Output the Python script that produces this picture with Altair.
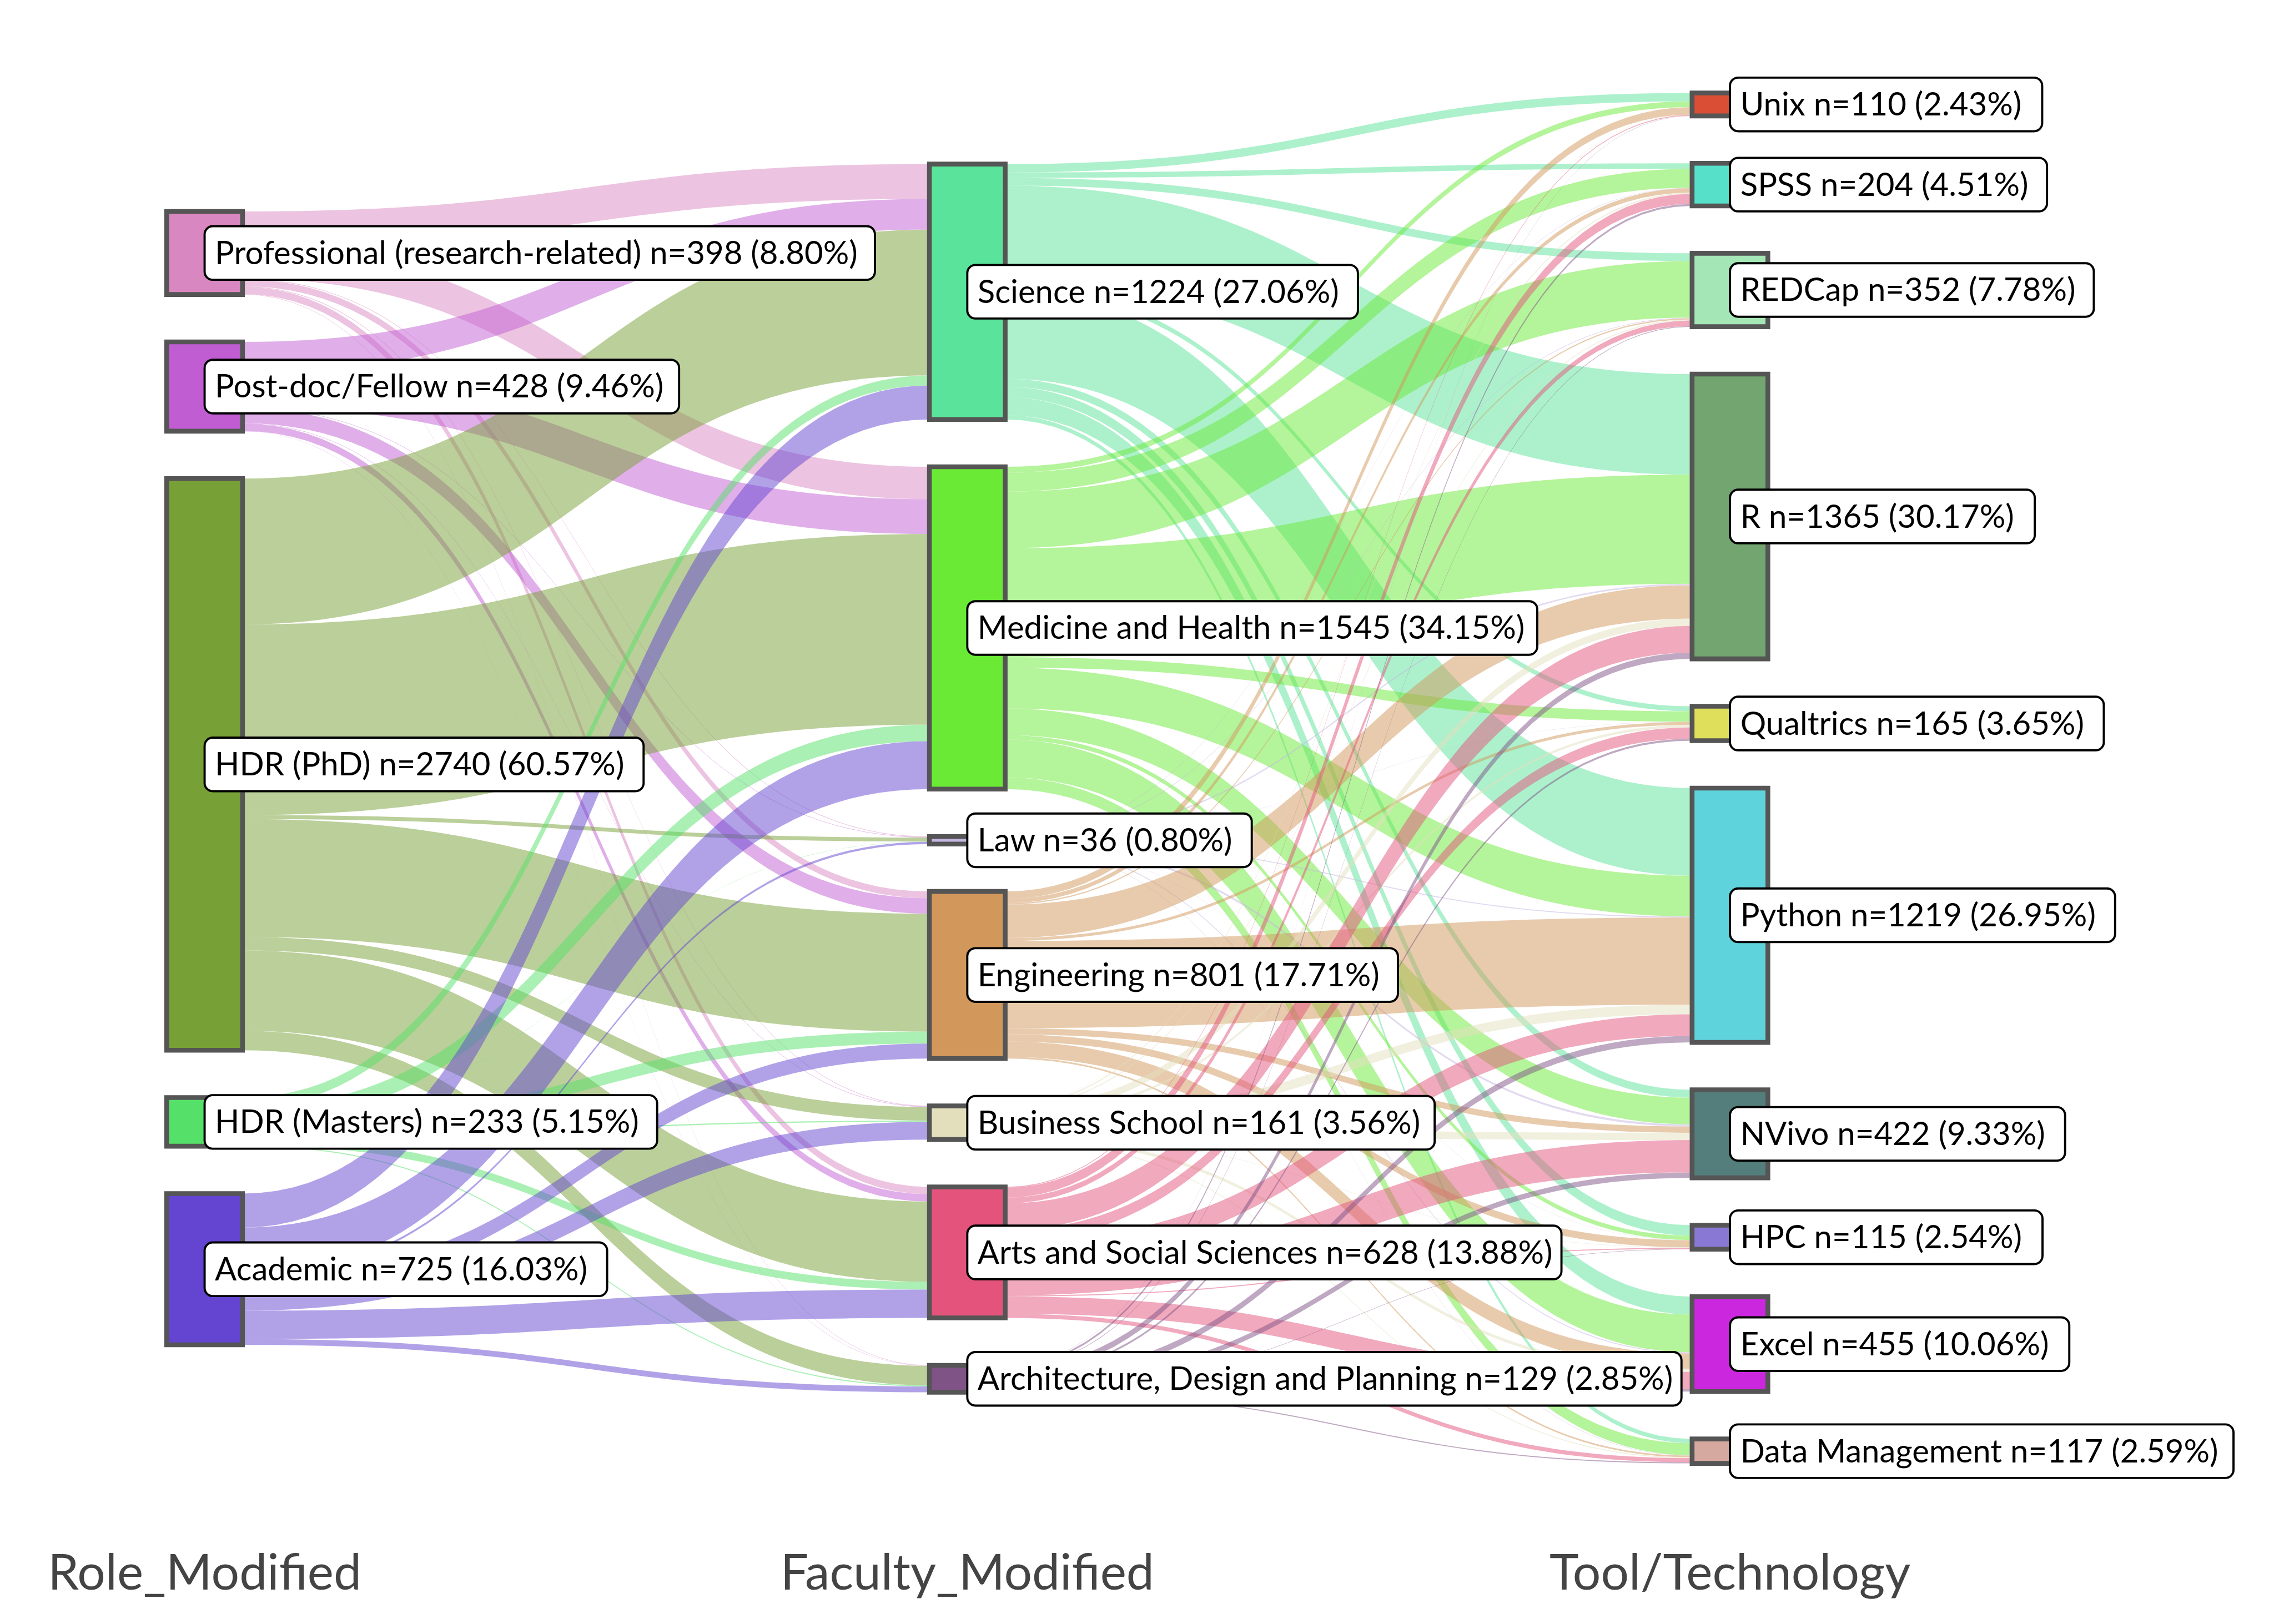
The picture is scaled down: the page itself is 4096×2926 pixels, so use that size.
import altair as alt
import pandas as pd

# ---------------- data ----------------
roles = ["Professional (research-related)", "Post-doc/Fellow", "HDR (PhD)", "HDR (Masters)", "Academic"]
role_colors = ["#d987c1", "#c15dd3", "#77a036", "#55e169", "#6345d1"]

faculties = ["Science", "Medicine and Health", "Law", "Engineering", "Business School",
             "Arts and Social Sciences", "Architecture, Design and Planning"]
faculty_colors = ["#5ae39a", "#6ae935", "#c6b6e2", "#d1975b", "#e3dfbd", "#e3537b", "#7f5385"]

tools = ["Unix", "SPSS", "REDCap", "R", "Qualtrics", "Python", "NVivo", "HPC", "Excel", "Data Management"]
tool_colors = ["#da4e36", "#56e0c9", "#a5e6b6", "#72a56f", "#e0df5b", "#5fd3dc", "#537e7b",
               "#8978d4", "#ca27de", "#d6a9a0"]

# rows: roles, columns: faculties
role_to_faculty = [
    [167, 155, 3, 33, 3, 35, 2],
    [147, 167, 2, 74, 2, 35, 1],
    [699, 914, 19, 565, 65, 385, 93],
    [48, 79, 1, 57, 6, 37, 5],
    [163, 230, 11, 72, 85, 136, 28],
]
# rows: faculties, columns: tools
faculty_to_tool = [
    [40, 26, 37, 482, 24, 420, 38, 50, 86, 21],
    [28, 91, 271, 523, 50, 195, 128, 21, 181, 57],
    [0, 2, 3, 7, 1, 5, 10, 1, 5, 2],
    [36, 21, 6, 160, 14, 418, 30, 34, 74, 8],
    [1, 6, 5, 35, 12, 46, 35, 2, 15, 4],
    [4, 48, 27, 128, 54, 104, 155, 5, 83, 20],
    [1, 10, 3, 30, 10, 31, 26, 2, 11, 5],
]
column_titles = ["Role_Modified", "Faculty_Modified", "Tool/Technology"]

# ---------------- layout (reference pixel space, 4200 x 3000) ----------------
S = 0.975
K = 0.3855        # px per respondent
GAP = 87.6        # px between nodes
CY = 1438.0       # vertical centre of columns
X0 = 308.0        # left of first column
STEP = 1409.0     # column spacing
NW = 140.0        # node width
FS = 59.6         # label font size (ref px)
PAD_L, PAD_R = 19.0, 47.0
BOX_H = 99.0

role_vals = [sum(r) for r in role_to_faculty]
fac_vals = [sum(r) for r in faculty_to_tool]
tool_vals = [sum(faculty_to_tool[i][j] for i in range(len(faculties))) for j in range(len(tools))]
TOTAL = sum(role_vals)

W_TABLE = {
    'A': .68, 'B': .63, 'C': .67, 'D': .74, 'E': .55, 'F': .53, 'G': .72, 'H': .75, 'I': .28,
    'J': .36, 'K': .64, 'L': .48, 'M': .89, 'N': .75, 'O': .79, 'P': .59, 'Q': .79, 'R': .61,
    'S': .52, 'T': .58, 'U': .72, 'V': .67, 'W': 1.0, 'X': .64, 'Y': .61, 'Z': .6,
    'a': .48, 'b': .55, 'c': .46, 'd': .55, 'e': .52, 'f': .33, 'g': .5, 'h': .55, 'i': .24,
    'j': .24, 'k': .5, 'l': .24, 'm': .83, 'n': .55, 'o': .55, 'p': .55, 'q': .55, 'r': .37,
    's': .42, 't': .36, 'u': .55, 'v': .5, 'w': .76, 'x': .49, 'y': .5, 'z': .45,
    ' ': .19, '(': .3, ')': .3, '=': .58, '%': .78, '.': .2, ',': .2, '-': .32, '/': .39, '_': .5,
}


def text_w(s):
    return sum(W_TABLE.get(ch, .58 if ch.isdigit() else .55) for ch in s) * FS


columns = [(roles, role_vals, role_colors), (faculties, fac_vals, faculty_colors),
           (tools, tool_vals, tool_colors)]

node_rows, box_rows, text_rows, title_rows = [], [], [], []
node_top = {}
for c, (names, vals, cols) in enumerate(columns):
    h_total = sum(vals) * K + (len(vals) - 1) * GAP
    y = CY - h_total / 2
    xl = X0 + c * STEP
    for i, (nm, v, col) in enumerate(zip(names, vals, cols)):
        h = v * K
        node_top[(c, i)] = y
        node_rows.append(dict(x=xl, x2=xl + NW, y=y, y2=y + h, color=col))
        label = f"{nm} n={v} ({v / TOTAL * 100:.2f}%)"
        cx = xl + NW / 2
        cy = y + h / 2
        tw = text_w(label)
        box_rows.append(dict(x=cx, x2=cx + PAD_L + tw + PAD_R, y=cy - BOX_H / 2, y2=cy + BOX_H / 2))
        text_rows.append(dict(x=cx + PAD_L, y=cy, label=label))
        y += h + GAP
    title_rows.append(dict(x=xl + NW / 2, y=2937.0, label=column_titles[c]))

link_rows = []
N = 60
lid = 0
for s, M in enumerate([role_to_faculty, faculty_to_tool]):
    nS, nT = len(M), len(M[0])
    src_cur = [node_top[(s, i)] for i in range(nS)]
    tgt_cur = [node_top[(s + 1, j)] for j in range(nT)]
    y0 = [[0.0] * nT for _ in range(nS)]
    y1 = [[0.0] * nT for _ in range(nS)]
    for i in range(nS):
        for j in range(nT):
            y0[i][j] = src_cur[i]
            src_cur[i] += M[i][j] * K
    for j in range(nT):
        for i in range(nS):
            y1[i][j] = tgt_cur[j]
            tgt_cur[j] += M[i][j] * K
    xa = X0 + s * STEP + NW
    xb = X0 + (s + 1) * STEP
    xm = (xa + xb) / 2
    src_colors = columns[s][2]
    for i in range(nS):
        for j in range(nT):
            v = M[i][j]
            if v <= 0:
                continue
            h = v * K
            for k in range(N):
                t = k / (N - 1)
                u = 1 - t
                x = u ** 3 * xa + 3 * u * u * t * xm + 3 * u * t * t * xm + t ** 3 * xb
                f = 3 * t * t - 2 * t ** 3
                yt = y0[i][j] + (y1[i][j] - y0[i][j]) * f
                link_rows.append(dict(link=lid, x=x, y=yt, y2=yt + h, color=src_colors[i]))
            lid += 1

# ---------------- chart ----------------
PW, PH = 4080, 2910
xs = alt.Scale(domain=[8 / S, (8 + PW) / S], nice=False, zero=False)
ys = alt.Scale(domain=[8 / S, (8 + PH) / S], nice=False, zero=False, reverse=True)

links = alt.Chart(pd.DataFrame(link_rows)).mark_area(opacity=0.5, interpolate="linear").encode(
    x=alt.X("x:Q", scale=xs, axis=None),
    y=alt.Y("y:Q", scale=ys, axis=None),
    y2="y2:Q",
    detail="link:N",
    color=alt.Color("color:N", scale=None),
)

nodes = alt.Chart(pd.DataFrame(node_rows)).mark_rect(stroke="#555555", strokeWidth=8.8 * S).encode(
    x=alt.X("x:Q", scale=xs, axis=None), x2="x2:Q",
    y=alt.Y("y:Q", scale=ys, axis=None), y2="y2:Q",
    fill=alt.Fill("color:N", scale=None),
)

boxes = alt.Chart(pd.DataFrame(box_rows)).mark_rect(
    fill="white", stroke="black", strokeWidth=4 * S, cornerRadius=15 * S
).encode(
    x=alt.X("x:Q", scale=xs, axis=None), x2="x2:Q",
    y=alt.Y("y:Q", scale=ys, axis=None), y2="y2:Q",
)

texts = alt.Chart(pd.DataFrame(text_rows)).mark_text(
    align="left", baseline="middle", font="Lato", fontSize=FS * S, color="black", dy=3
).encode(
    x=alt.X("x:Q", scale=xs, axis=None),
    y=alt.Y("y:Q", scale=ys, axis=None),
    text="label:N",
)

titles = alt.Chart(pd.DataFrame(title_rows)).mark_text(
    align="center", baseline="alphabetic", font="Lato", fontSize=91.6 * S, color="#444444"
).encode(
    x=alt.X("x:Q", scale=xs, axis=None),
    y=alt.Y("y:Q", scale=ys, axis=None),
    text="label:N",
)

chart = alt.layer(links, nodes, boxes, texts, titles).properties(
    width=PW, height=PH, padding=0, autosize=alt.AutoSizeParams(type="none"), background="white"
).configure_view(stroke=None)

chart.save("out.html", embed_options={"renderer": "svg", "actions": False})
